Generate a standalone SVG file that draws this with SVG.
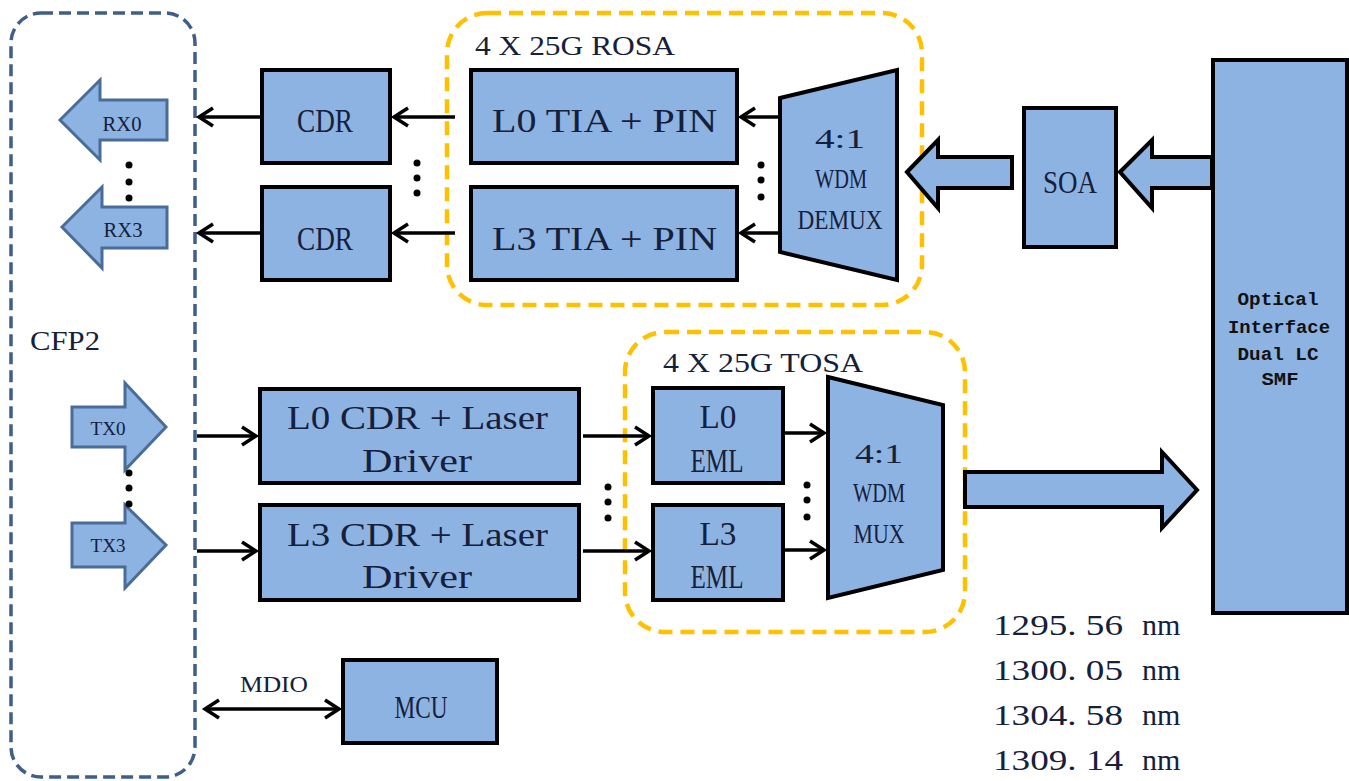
<svg xmlns="http://www.w3.org/2000/svg" width="1349" height="781" viewBox="0 0 1349 781">
<style>
.box{fill:#8db3e2;stroke:#000;stroke-width:4}
.sig{fill:#8db3e2;stroke:#4a6c98;stroke-width:3}
.big{fill:#8db3e2;stroke:#000;stroke-width:4}
.t{font-family:"Liberation Serif","DejaVu Serif",serif;fill:#16203a}
.o{font-family:"Liberation Mono","DejaVu Sans Mono",monospace;font-weight:bold;fill:#111;font-size:18px}
.conn{stroke:#000;stroke-width:3.5;fill:none}
.dot{fill:#000}
.cfp{fill:none;stroke:#3f5f88;stroke-width:3.5;stroke-dasharray:12 6}
.osa{fill:none;stroke:#ffc000;stroke-width:4.5;stroke-dasharray:14 8}
</style>
<defs>
<marker id="ah" markerUnits="userSpaceOnUse" markerWidth="24" markerHeight="24" viewBox="-20 -12 24 24" refX="0" refY="0" orient="auto-start-reverse">
<path d="M-14,-9 L0,0 L-14,9" fill="none" stroke="#000" stroke-width="3.5"/>
</marker>
</defs>
<rect width="1349" height="781" fill="#fff"/>

<g id="cfp2">
<rect class="cfp" x="11" y="13" width="184" height="764" rx="30"/>
<text class="t" x="30" y="350" font-size="28" textLength="70" lengthAdjust="spacingAndGlyphs">CFP2</text>
</g>
<g id="rosa-frame">
<rect class="osa" x="447" y="13" width="475" height="292" rx="40"/>
<text class="t" x="475" y="55" font-size="28" textLength="200" lengthAdjust="spacingAndGlyphs">4 X 25G ROSA</text>
</g>
<g id="tosa-frame">
<rect class="osa" x="625" y="332" width="340" height="300" rx="40"/>
<text class="t" x="663" y="372" font-size="28" textLength="200" lengthAdjust="spacingAndGlyphs">4 X 25G TOSA</text>
</g>

<g id="rx0">
<polygon class="sig" points="60,120 100,80 100,100 167,100 167,140 100,140 100,160"/>
<text class="t" x="122" y="131" font-size="21" text-anchor="middle" textLength="39" lengthAdjust="spacingAndGlyphs">RX0</text>
</g>
<g id="rx3">
<polygon class="sig" points="62,227 102,187 102,207 167,207 167,248 102,248 102,268"/>
<text class="t" x="123" y="237" font-size="21" text-anchor="middle" textLength="39" lengthAdjust="spacingAndGlyphs">RX3</text>
</g>
<g id="tx0">
<polygon class="sig" points="72,407 125,407 125,383 166,427 125,470 125,447 72,447"/>
<text class="t" x="108" y="435" font-size="19" text-anchor="middle" textLength="35" lengthAdjust="spacingAndGlyphs">TX0</text>
</g>
<g id="tx3">
<polygon class="sig" points="72,523 125,523 125,505 166,545 125,588 125,567 72,567"/>
<text class="t" x="108" y="552" font-size="19" text-anchor="middle" textLength="35" lengthAdjust="spacingAndGlyphs">TX3</text>
</g>

<g id="cdr0">
<rect class="box" x="262" y="70" width="128" height="93"/>
<text class="t" x="325" y="132" font-size="33" text-anchor="middle" textLength="56" lengthAdjust="spacingAndGlyphs">CDR</text>
</g>
<g id="cdr3">
<rect class="box" x="262" y="187" width="128" height="93"/>
<text class="t" x="325" y="250" font-size="33" text-anchor="middle" textLength="56" lengthAdjust="spacingAndGlyphs">CDR</text>
</g>
<g id="tia0">
<rect class="box" x="471" y="70" width="266" height="93"/>
<text class="t" x="492" y="132" font-size="34" textLength="225" lengthAdjust="spacingAndGlyphs">L0 TIA + PIN</text>
</g>
<g id="tia3">
<rect class="box" x="471" y="187" width="266" height="93"/>
<text class="t" x="492" y="250" font-size="34" textLength="225" lengthAdjust="spacingAndGlyphs">L3 TIA + PIN</text>
</g>
<g id="demux">
<polygon class="box" points="780,98 897,70 897,280 780,252"/>
<text class="t" x="840" y="148" font-size="28" text-anchor="middle" textLength="50" lengthAdjust="spacingAndGlyphs">4:1</text>
<text class="t" x="841" y="188" font-size="28" text-anchor="middle" textLength="52" lengthAdjust="spacingAndGlyphs">WDM</text>
<text class="t" x="840" y="229" font-size="28" text-anchor="middle" textLength="85" lengthAdjust="spacingAndGlyphs">DEMUX</text>
</g>
<g id="soa">
<rect class="box" x="1024" y="108" width="92" height="139"/>
<text class="t" x="1070" y="193" font-size="32" text-anchor="middle" textLength="54" lengthAdjust="spacingAndGlyphs">SOA</text>
</g>
<g id="optical">
<rect class="box" x="1213" y="60" width="134" height="553"/>
<text class="o" x="1278" y="305" text-anchor="middle" textLength="81" lengthAdjust="spacingAndGlyphs">Optical</text>
<text class="o" x="1279" y="333" text-anchor="middle" textLength="102" lengthAdjust="spacingAndGlyphs">Interface</text>
<text class="o" x="1278" y="360" text-anchor="middle" textLength="81" lengthAdjust="spacingAndGlyphs">Dual LC</text>
<text class="o" x="1280" y="385" text-anchor="middle" textLength="37" lengthAdjust="spacingAndGlyphs">SMF</text>
</g>
<g id="ld0">
<rect class="box" x="260" y="389" width="319" height="94"/>
<text class="t" x="287" y="429" font-size="33" textLength="261" lengthAdjust="spacingAndGlyphs">L0 CDR + Laser</text>
<text class="t" x="362" y="472" font-size="33" textLength="110" lengthAdjust="spacingAndGlyphs">Driver</text>
</g>
<g id="ld3">
<rect class="box" x="260" y="505" width="319" height="95"/>
<text class="t" x="287" y="546" font-size="33" textLength="261" lengthAdjust="spacingAndGlyphs">L3 CDR + Laser</text>
<text class="t" x="362" y="588" font-size="33" textLength="110" lengthAdjust="spacingAndGlyphs">Driver</text>
</g>
<g id="eml0">
<rect class="box" x="653" y="388" width="130" height="95"/>
<text class="t" x="718" y="428" font-size="33" text-anchor="middle" textLength="37" lengthAdjust="spacingAndGlyphs">L0</text>
<text class="t" x="717" y="472" font-size="33" text-anchor="middle" textLength="53" lengthAdjust="spacingAndGlyphs">EML</text>
</g>
<g id="eml3">
<rect class="box" x="653" y="505" width="130" height="95"/>
<text class="t" x="718" y="545" font-size="33" text-anchor="middle" textLength="37" lengthAdjust="spacingAndGlyphs">L3</text>
<text class="t" x="717" y="588" font-size="33" text-anchor="middle" textLength="53" lengthAdjust="spacingAndGlyphs">EML</text>
</g>
<g id="mux">
<polygon class="box" points="828,377 943,405 943,570 828,598"/>
<text class="t" x="879" y="463" font-size="28" text-anchor="middle" textLength="48" lengthAdjust="spacingAndGlyphs">4:1</text>
<text class="t" x="879" y="502" font-size="28" text-anchor="middle" textLength="52" lengthAdjust="spacingAndGlyphs">WDM</text>
<text class="t" x="879" y="543" font-size="28" text-anchor="middle" textLength="51" lengthAdjust="spacingAndGlyphs">MUX</text>
</g>
<g id="mcu">
<rect class="box" x="343" y="660" width="154" height="83"/>
<text class="t" x="421" y="718" font-size="32" text-anchor="middle" textLength="53" lengthAdjust="spacingAndGlyphs">MCU</text>
</g>
<g id="wavelengths">
<text class="t" x="993" y="635" font-size="30"><tspan textLength="130" lengthAdjust="spacingAndGlyphs">1295. 56</tspan><tspan x="1142">nm</tspan></text>
<text class="t" x="993" y="680" font-size="30"><tspan textLength="130" lengthAdjust="spacingAndGlyphs">1300. 05</tspan><tspan x="1142">nm</tspan></text>
<text class="t" x="993" y="725" font-size="30"><tspan textLength="130" lengthAdjust="spacingAndGlyphs">1304. 58</tspan><tspan x="1142">nm</tspan></text>
<text class="t" x="993" y="770" font-size="30"><tspan textLength="130" lengthAdjust="spacingAndGlyphs">1309. 14</tspan><tspan x="1142">nm</tspan></text>
</g>

<g id="connectors">
<polygon class="big" points="907,172 938,140 938,157 1012,157 1012,188 938,188 938,208"/>
<polygon class="big" points="1120,172 1152,140 1152,157 1212,157 1212,188 1152,188 1152,208"/>
<polygon class="big" points="965,472 1162,472 1162,452 1197,490 1162,528 1162,507 965,507"/>
<line class="conn" x1="260" y1="117" x2="199" y2="117" marker-end="url(#ah)"/>
<line class="conn" x1="260" y1="233" x2="199" y2="233" marker-end="url(#ah)"/>
<line class="conn" x1="455" y1="117" x2="394" y2="117" marker-end="url(#ah)"/>
<line class="conn" x1="455" y1="233" x2="394" y2="233" marker-end="url(#ah)"/>
<line class="conn" x1="780" y1="117" x2="741" y2="117" marker-end="url(#ah)"/>
<line class="conn" x1="780" y1="233" x2="741" y2="233" marker-end="url(#ah)"/>
<line class="conn" x1="197" y1="436" x2="256" y2="436" marker-end="url(#ah)"/>
<line class="conn" x1="197" y1="551" x2="256" y2="551" marker-end="url(#ah)"/>
<line class="conn" x1="583" y1="436" x2="649" y2="436" marker-end="url(#ah)"/>
<line class="conn" x1="583" y1="551" x2="649" y2="551" marker-end="url(#ah)"/>
<line class="conn" x1="783" y1="433" x2="824" y2="433" marker-end="url(#ah)"/>
<line class="conn" x1="783" y1="550" x2="824" y2="550" marker-end="url(#ah)"/>
<line class="conn" x1="205" y1="709" x2="339" y2="709" marker-start="url(#ah)" marker-end="url(#ah)"/>
<text class="t" x="240" y="692" font-size="24" textLength="68" lengthAdjust="spacingAndGlyphs">MDIO</text>
<circle class="dot" cx="129" cy="165" r="3.5"/><circle class="dot" cx="129" cy="182" r="3.5"/><circle class="dot" cx="129" cy="198" r="3.5"/>
<circle class="dot" cx="417" cy="163" r="3.5"/><circle class="dot" cx="417" cy="178" r="3.5"/><circle class="dot" cx="417" cy="193" r="3.5"/>
<circle class="dot" cx="761" cy="165" r="3.5"/><circle class="dot" cx="761" cy="180" r="3.5"/><circle class="dot" cx="761" cy="197" r="3.5"/>
<circle class="dot" cx="129" cy="473" r="3.5"/><circle class="dot" cx="129" cy="488" r="3.5"/><circle class="dot" cx="129" cy="504" r="3.5"/>
<circle class="dot" cx="608" cy="487" r="3.5"/><circle class="dot" cx="608" cy="502" r="3.5"/><circle class="dot" cx="608" cy="518" r="3.5"/>
<circle class="dot" cx="807" cy="485" r="3.5"/><circle class="dot" cx="807" cy="500" r="3.5"/><circle class="dot" cx="807" cy="517" r="3.5"/>
</g>
</svg>
